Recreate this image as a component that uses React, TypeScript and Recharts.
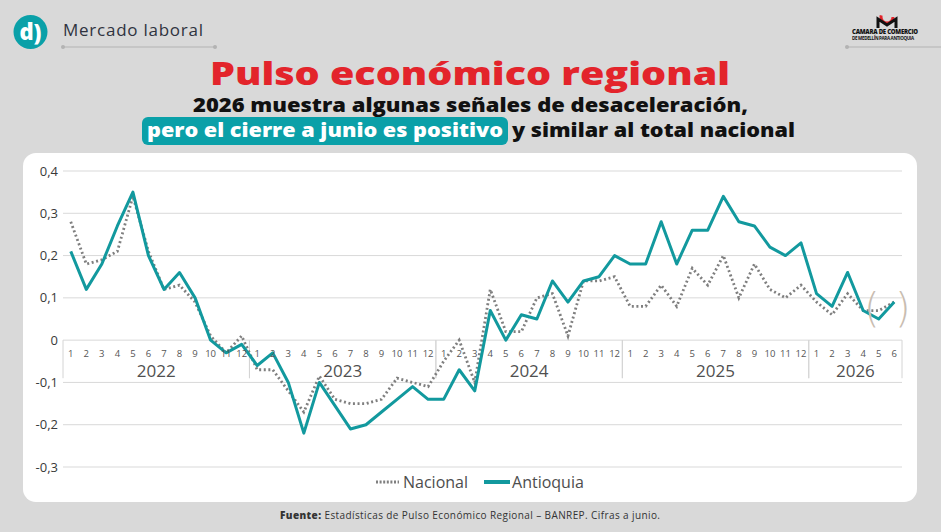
import * as React from 'react';
import {
    LineChart,
    Line,
    XAxis,
    YAxis,
    CartesianGrid,
    Legend,
    ReferenceDot,
    ReferenceArea
} from 'recharts';

// months shown per year on the two-level axis
const years = ['2022', '2023', '2024', '2025', '2026'];
const monthsPerYear = [12, 12, 12, 12, 6];

// Pulso económico regional, variación anual
const nacional = [
    0.28, 0.18, 0.19, 0.21, 0.34, 0.21, 0.12, 0.13, 0.09, 0.01, -0.03, 0.01,
    -0.07, -0.07, -0.12, -0.17, -0.085, -0.14, -0.15, -0.15, -0.14, -0.09, -0.1, -0.11,
    -0.05, 0.0, -0.1, 0.12, 0.02, 0.02, 0.1, 0.11, 0.01, 0.14, 0.14, 0.15,
    0.08, 0.08, 0.13, 0.08, 0.17, 0.13, 0.2, 0.1, 0.18, 0.12, 0.1, 0.13,
    0.09, 0.06, 0.11, 0.07, 0.07, 0.09
];
const antioquia = [
    0.21, 0.12, 0.18, 0.27, 0.35, 0.2, 0.12, 0.16, 0.1, 0.0, -0.03, -0.01,
    -0.06, -0.03, -0.1, -0.22, -0.1, -0.155, -0.21, -0.2, -0.17, -0.14, -0.11, -0.14,
    -0.14, -0.07, -0.12, 0.07, 0.0, 0.06, 0.05, 0.14, 0.09, 0.14, 0.15, 0.2,
    0.18, 0.18, 0.28, 0.18, 0.26, 0.26, 0.34, 0.28, 0.27, 0.22, 0.2, 0.23,
    0.11, 0.08, 0.16, 0.07, 0.05, 0.09
];
const yTicks = [0.4, 0.3, 0.2, 0.1, 0, -0.1, -0.2, -0.3];
const legendOrder = ['nacional', 'antioquia'];

const FONT = '"Open Sans", sans-serif';
const TEAL = '#12999e';
const GREY = '#7f7f7f';

const categories: { cat: string; month: string; year: string }[] = [];
years.forEach((y, yi) => {
    for (let m = 1; m <= monthsPerYear[yi]; m++) {
        categories.push({ cat: `${y}-${m}`, month: String(m), year: y });
    }
});

const data = categories.map((c, i) => ({
    cat: c.cat,
    nacional: nacional[i],
    antioquia: antioquia[i]
}));

// half a month slot, so the points sit in the middle of each slot
const PLOT_W = 941 - 63 - 39;
const HALF_SLOT = PLOT_W / categories.length / 2;

const fmt = (v: number) => String(v).replace('.', ',');

const MonthLabel = (label: string) => (p: any) => (
    <text
        x={p.cx}
        y={p.cy + 17}
        textAnchor="middle"
        fontSize={9.5}
        fontFamily={FONT}
        fill="#555"
    >
        {label}
    </text>
);

const YearGroup = (label: string, n: number) => (p: any) => {
    const half = n > 1 ? p.width / (n - 1) / 2 : 0;
    const left = p.x - half;
    const right = p.x + p.width + half;
    const bottom = p.y + p.height * 0.9;
    return (
        <g>
            <line x1={left} x2={left} y1={p.y} y2={bottom} stroke="#d4d4d4" />
            <line x1={right} x2={right} y1={p.y} y2={bottom} stroke="#d4d4d4" />
            <text
                x={(left + right) / 2}
                y={p.y + 37}
                textAnchor="middle"
                fontSize={17}
                fontFamily={FONT}
                fill="#505050"
            >
                {label}
            </text>
        </g>
    );
};

const Parens = (p: any) => (
    <g fontFamily="DejaVu Sans, sans-serif" fontSize={40} fontWeight={200} fill="#c9bdb1">
        <text x={p.cx - 7} y={p.cy} textAnchor="middle" dominantBaseline="central">
            (
        </text>
        <text x={p.cx + 24} y={p.cy} textAnchor="middle" dominantBaseline="central">
            )
        </text>
    </g>
);

const LegendContent = (props: any) => {
    const items = [...props.payload].sort(
        (a: any, b: any) => legendOrder.indexOf(a.dataKey) - legendOrder.indexOf(b.dataKey)
    );
    return (
        <div
            style={{
                height: 30,
                display: 'flex',
                alignItems: 'center',
                paddingLeft: 375,
                fontFamily: FONT,
                fontSize: 16,
                color: '#4d4d4d'
            }}
        >
            {items.map((e: any) => (
                <div key={e.value} style={{ display: 'flex', alignItems: 'center', marginRight: 16 }}>
                    <svg width={26} height={10} style={{ marginRight: 2 }}>
                        {e.dataKey === 'nacional' ? (
                            <line
                                x1={1}
                                x2={24}
                                y1={5}
                                y2={5}
                                stroke={GREY}
                                strokeWidth={3}
                                strokeDasharray="2 1.6"
                            />
                        ) : (
                            <line x1={0} x2={26} y1={5} y2={5} stroke={TEAL} strokeWidth={4} />
                        )}
                    </svg>
                    <span>{e.value}</span>
                </div>
            ))}
        </div>
    );
};

const Header = () => (
    <svg width={941} height={532} style={{ position: 'absolute', left: 0, top: 0 }}>
        <circle cx={30.5} cy={32} r={17} fill="#0aa0a8" />
        <text x={30.5} y={40} textAnchor="middle" fontFamily={FONT} fontWeight={800} fontSize={22} fill="#fff">
            d)
        </text>
        <text x={63} y={36} fontFamily={FONT} fontSize={17} fill="#2f3340" textLength={140}>
            Mercado laboral
        </text>
        <line x1={63} x2={215} y1={47} y2={47} stroke="#b3b3b3" strokeWidth={1.2} />
        <circle cx={63} cy={47} r={2} fill="#b3b3b3" />
        <circle cx={215} cy={47} r={2} fill="#b3b3b3" />

        <circle cx={887} cy={17} r={6} fill="none" stroke="#e3242b" strokeWidth={3} strokeDasharray="20 20" />
        <path d="M878 28 L878 19 L887 25 L896 19 L896 28" fill="none" stroke="#111" strokeWidth={3} />
        <text x={852} y={34} fontFamily={FONT} fontWeight={800} fontSize={6} fill="#111" textLength={66}>
            CAMARA DE COMERCIO
        </text>
        <text x={852} y={40} fontFamily={FONT} fontWeight={700} fontSize={4.5} fill="#111" textLength={62}>
            DE MEDELLÍN PARA ANTIOQUIA
        </text>
        <line x1={847} x2={941} y1={47} y2={47} stroke="#b3b3b3" strokeWidth={1.2} />
        <circle cx={847} cy={47} r={2} fill="#b3b3b3" />

        <text
            x={210}
            y={85}
            fontFamily={FONT}
            fontWeight={800}
            fontSize={31}
            fill="#e3242b"
            textLength={520}
            lengthAdjust="spacingAndGlyphs"
        >
            Pulso económico regional
        </text>
        <text
            x={193}
            y={112}
            fontFamily={FONT}
            fontWeight={800}
            fontSize={19.5}
            fill="#111"
            textLength={555}
            lengthAdjust="spacingAndGlyphs"
        >
            2026 muestra algunas señales de desaceleración,
        </text>
        <rect x={142} y={117} width={366} height={28} rx={6} fill="#0aa0a8" />
        <text
            x={147}
            y={137}
            fontFamily={FONT}
            fontWeight={800}
            fontSize={19.5}
            fill="#fff"
            textLength={356}
            lengthAdjust="spacingAndGlyphs"
        >
            pero el cierre a junio es positivo
        </text>
        <text
            x={512}
            y={137}
            fontFamily={FONT}
            fontWeight={800}
            fontSize={19.5}
            fill="#111"
            textLength={283}
            lengthAdjust="spacingAndGlyphs"
        >
            y similar al total nacional
        </text>

        <text x={280} y={519} fontFamily={FONT} fontSize={10} fill="#333" textLength={380}>
            <tspan fontWeight={800}>Fuente: </tspan>
            Estadísticas de Pulso Económico Regional – BANREP. Cifras a junio.
        </text>
    </svg>
);

const App = () => {
    let start = 0;
    const groups = years.map((y, yi) => {
        const n = monthsPerYear[yi];
        const g = { year: y, n, x1: categories[start].cat, x2: categories[start + n - 1].cat };
        start += n;
        return g;
    });

    return (
        <div
            style={{
                position: 'absolute',
                left: 0,
                top: 0,
                width: 941,
                height: 532,
                background: '#d9d9d9',
                overflow: 'hidden'
            }}
        >
            <div
                style={{
                    position: 'absolute',
                    left: 23,
                    top: 153,
                    width: 894,
                    height: 349,
                    background: '#fff',
                    borderRadius: 13
                }}
            />
            <Header />
            <div style={{ position: 'absolute', left: 0, top: 0 }}>
                <LineChart
                    width={941}
                    height={497}
                    data={data}
                    margin={{ top: 171, right: 39, left: 0, bottom: 0 }}
                >
                    <CartesianGrid vertical={false} stroke="#d9d9d9" />
                    <XAxis
                        dataKey="cat"
                        hide
                        padding={{ left: HALF_SLOT, right: HALF_SLOT }}
                    />
                    <YAxis
                        type="number"
                        domain={[-0.3, 0.4]}
                        ticks={yTicks}
                        width={63}
                        axisLine={false}
                        tickLine={false}
                        tickSize={4}
                        tickMargin={1}
                        tickFormatter={fmt}
                        tick={{ fontSize: 13, fill: '#3a3a3a', fontFamily: FONT }}
                    />
                    {groups.map(g => (
                        <ReferenceArea
                            key={g.year}
                            x1={g.x1}
                            x2={g.x2}
                            y1={0}
                            y2={-0.1}
                            shape={YearGroup(g.year, g.n)}
                        />
                    ))}
                    {categories.map(c => (
                        <ReferenceDot
                            key={c.cat}
                            x={c.cat}
                            y={0}
                            r={0}
                            shape={MonthLabel(c.month)}
                        />
                    ))}
                    <Legend verticalAlign="bottom" content={LegendContent} wrapperStyle={{ left: 0, width: 941 }} />
                    <Line
                        type="linear"
                        dataKey="nacional"
                        name="Nacional"
                        stroke={GREY}
                        strokeWidth={2.8}
                        strokeDasharray="2 2.6"
                        dot={false}
                        isAnimationActive={false}
                    />
                    <Line
                        type="linear"
                        dataKey="antioquia"
                        name="Antioquia"
                        stroke={TEAL}
                        strokeWidth={3}
                        strokeLinejoin="round"
                        dot={false}
                        isAnimationActive={false}
                    />
                    <ReferenceDot x="2026-5" y={0.076} r={0} shape={Parens} />
                </LineChart>
            </div>
        </div>
    );
};

export default App;
